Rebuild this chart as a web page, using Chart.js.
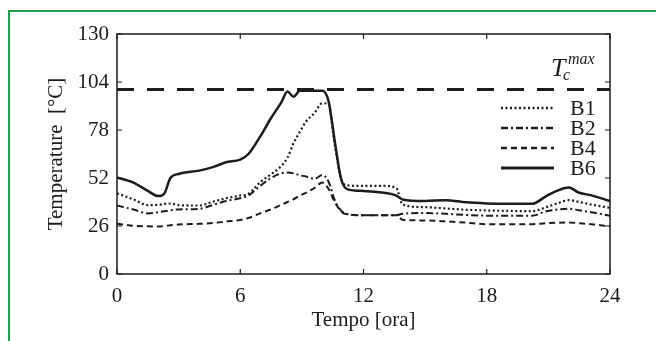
<!DOCTYPE html>
<html>
<head>
<meta charset="utf-8">
<script src="https://cdn.jsdelivr.net/npm/chart.js@4.4.0/dist/chart.umd.min.js"></script>
<style>
  html, body { margin: 0; padding: 0; background: #fff; }
  #wrap { position: relative; width: 656px; height: 341px; overflow: hidden; }
  #frame { position: absolute; left: 8px; top: 10px; width: 700px; height: 400px;
           border-left: 2px solid #1ea04b; border-top: 2px solid #1ea04b; pointer-events: none; }
</style>
</head>
<body>
<div id="wrap">
  <canvas id="tempChart" width="656" height="341"></canvas>
  <div id="frame"></div>
</div>
<script>
// ore del giorno (asse x)
var hours = [0, 0.8, 1.5, 2.0, 2.3, 2.6, 3.0, 4.0, 4.7, 5.3, 6.0, 6.4, 7.0, 7.5, 8.0, 8.3, 8.6, 8.9, 9.2, 9.6,
             10.0, 10.3, 10.6, 10.9, 11.2, 12.0, 13.0, 13.6, 13.9, 15.0, 16.0, 17.0, 18.0, 19.0, 20.2, 20.9,
             21.5, 22.0, 22.5, 23.1, 24];

var b1 = [43.7, 40.4, 37.3, 37.5, 38, 38.2, 37.3, 37.1, 39.3, 41, 42.5, 43.5, 50, 54, 58.5, 63, 71, 77, 82.5, 87,
          92.5, 92, 70, 52, 48, 47.7, 47.7, 46.5, 37.6, 36.2, 35.5, 34.8, 34.4, 34.2, 34, 36.2,
          38.5, 40, 39, 37.6, 35.8];
var b2 = [37.1, 34.9, 32.8, 33.5, 34, 34.5, 35, 35.3, 37.5, 39.5, 41, 42.5, 48, 52, 54.5, 55, 54.5, 53.5, 52.8, 51.5,
          53.6, 50, 40, 34.5, 32.5, 31.8, 31.8, 31.8, 32.7, 33, 32.6, 32, 31.6, 31.6, 31.6, 34,
          35, 35.4, 34.5, 33.4, 31.6];
var b4 = [27.2, 26.1, 25.8, 25.7, 26, 26.4, 26.8, 27.2, 27.6, 28.4, 29.3, 30.3, 33, 35, 37.5, 39, 40.5, 42.5, 44, 46.5,
          49.5, 46, 39, 34, 32.3, 31.8, 31.8, 31.8, 29.4, 29, 28.5, 27.8, 27, 27, 27, 27.5,
          27.8, 27.9, 27.5, 27, 25.7];
var b6 = [52.3, 49.5, 45, 42.2, 43.5, 52, 54.2, 56, 58, 60.5, 62, 65, 75, 84.5, 93, 98.8, 96, 99.2, 99.2, 99.2,
          99.2, 93.5, 72, 52, 46, 45, 44, 42.5, 40.4, 39.5, 40, 38.8, 38.2, 38, 38, 42.2,
          45.4, 46.8, 44, 42.6, 39.5];

var tcMax = 100;
var xTicks = [0, 6, 12, 18, 24];
var yTicks = [0, 26, 52, 78, 104, 130];

var ink = "#1c1c1c";
var serif = "'Liberation Serif', 'DejaVu Serif', serif";

function pts(vals) {
  return hours.map(function (h, i) { return { x: h, y: vals[i] }; });
}

var series = [
  { label: "B1", data: b1, dash: [2, 2.5], width: 2.2 },
  { label: "B2", data: b2, dash: [7, 3, 2, 3], width: 2 },
  { label: "B4", data: b4, dash: [6, 4], width: 2 },
  { label: "B6", data: b6, dash: [], width: 2.5 }
];

var datasets = series.map(function (s) {
  return {
    label: s.label,
    data: pts(s.data),
    borderColor: ink,
    borderWidth: s.width,
    borderDash: s.dash,
    pointRadius: 0,
    cubicInterpolationMode: "monotone",
    fill: false
  };
});

datasets.push({
  label: "Tcmax",
  data: [{ x: xTicks[0], y: tcMax }, { x: xTicks[xTicks.length - 1], y: tcMax }],
  borderColor: ink,
  borderWidth: 3,
  borderDash: [17, 13],
  pointRadius: 0,
  fill: false
});

//- box, tacche interne, legenda e etichetta Tc^max
var decorPlugin = {
  id: "decor",
  afterDatasetsDraw: function (chart) {
    var ctx = chart.ctx;
    var a = chart.chartArea;
    var xs = chart.scales.x, ys = chart.scales.y;
    ctx.save();
    ctx.strokeStyle = ink;
    ctx.lineWidth = 1.5;
    ctx.setLineDash([]);
    ctx.strokeRect(a.left, a.top, a.right - a.left, a.bottom - a.top);
    ctx.lineWidth = 1.2;
    ctx.beginPath();
    xTicks.forEach(function (t) {
      var px = xs.getPixelForValue(t);
      ctx.moveTo(px, a.bottom); ctx.lineTo(px, a.bottom - 5);
      ctx.moveTo(px, a.top); ctx.lineTo(px, a.top + 5);
    });
    yTicks.forEach(function (t) {
      var py = ys.getPixelForValue(t);
      ctx.moveTo(a.left, py); ctx.lineTo(a.left + 5, py);
      ctx.moveTo(a.right, py); ctx.lineTo(a.right - 5, py);
    });
    ctx.stroke();

    // legenda
    var ly = [108, 128, 148, 168];
    ctx.fillStyle = ink;
    ctx.font = "22px " + serif;
    ctx.textBaseline = "middle";
    ctx.textAlign = "left";
    series.forEach(function (s, i) {
      ctx.beginPath();
      ctx.setLineDash(s.dash);
      ctx.lineWidth = s.width + 0.3;
      ctx.moveTo(501, ly[i]);
      ctx.lineTo(554, ly[i]);
      ctx.stroke();
      ctx.fillText(s.label, 570, ly[i] + 1);
    });
    ctx.setLineDash([]);

    // T_c^max
    ctx.textBaseline = "alphabetic";
    ctx.font = "italic 26px " + serif;
    ctx.fillText("T", 551, 76);
    ctx.font = "italic 16px " + serif;
    ctx.fillText("c", 563, 80);
    ctx.fillText("max", 568, 64);
    ctx.restore();
  }
};

var ctx = document.getElementById("tempChart").getContext("2d");
var tempChart = new Chart(ctx, {
  type: "line",
  data: { datasets: datasets },
  options: {
    responsive: false,
    animation: false,
    layout: { padding: { top: 34, right: 46, left: 0, bottom: 0 } },
    plugins: { legend: { display: false }, tooltip: { enabled: false } },
    scales: {
      x: {
        type: "linear",
        min: 0,
        max: 24,
        afterBuildTicks: function (scale) { scale.ticks = xTicks.map(function (v) { return { value: v }; }); },
        afterFit: function (scale) { scale.height = 67; },
        grid: { display: false },
        border: { display: false },
        ticks: { color: ink, padding: 2, font: { family: serif, size: 21 } },
        title: { display: true, text: "Tempo [ora]", color: ink, padding: { bottom: 8 }, font: { family: serif, size: 21 } }
      },
      y: {
        min: 0,
        max: 130,
        afterBuildTicks: function (scale) { scale.ticks = yTicks.map(function (v) { return { value: v }; }); },
        afterFit: function (scale) { scale.width = 117; },
        grid: { display: false },
        border: { display: false },
        ticks: { color: ink, padding: 0, font: { family: serif, size: 21 } },
        title: { display: true, text: "Temperature  [°C]", color: ink, padding: { top: 44 }, font: { family: serif, size: 21 } }
      }
    }
  },
  plugins: [decorPlugin]
});
</script>
</body>
</html>
